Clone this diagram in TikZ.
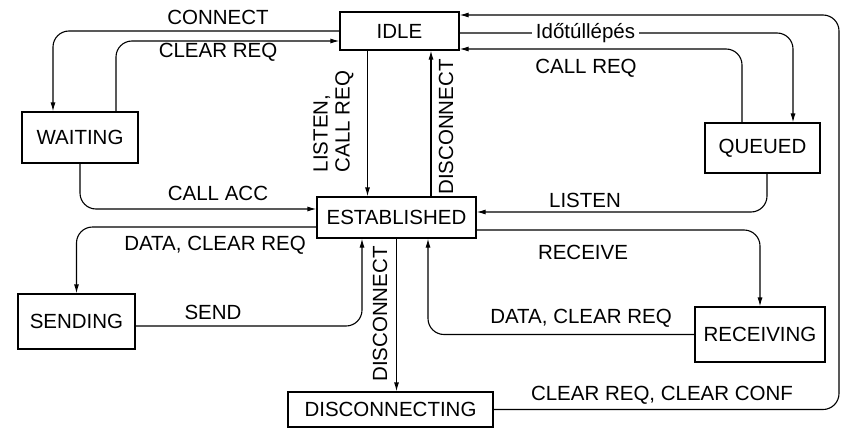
\documentclass[tikz,border=0pt]{standalone}
\usepackage{fontspec}
\setmainfont{Liberation Sans}
\usetikzlibrary{arrows.meta}
\newcommand{\lblfont}{\fontsize{20.5}{22}\selectfont}
\begin{document}
\begin{tikzpicture}[x=1pt,y=-1pt,
  box/.style={draw,line width=1.1pt,inner sep=0pt,font=\lblfont},
  lab/.style={inner sep=0pt,font=\lblfont},
  arr/.style={line width=1.1pt,rounded corners=16pt,-{Latex[length=9pt,width=5pt]}},
  ln/.style={line width=1.1pt,rounded corners=16pt}]
\useasboundingbox (0,0) rectangle (842,428);

% states
\node[box,minimum width=119pt,minimum height=38pt] (idle) at (399.5,31) {IDLE};
\node[box,minimum width=116pt,minimum height=51pt] (waiting) at (80,137.5) {WAITING};
\node[box,minimum width=115pt,minimum height=50pt] (queued) at (762.5,148) {QUEUED};
\node[box,minimum width=159pt,minimum height=41pt] (est) at (396.5,217.5) {ESTABLISHED};
\node[box,minimum width=117pt,minimum height=55pt] (send) at (76.5,321.5) {SENDING};
\node[box,minimum width=130pt,minimum height=55pt] (recv) at (760,334.5) {RECEIVING};
\node[box,minimum width=205pt,minimum height=35pt] (disc) at (390.5,409.5) {DISCONNECTING};

% connectors
\draw[arr] (idle.west) -| ([xshift=-27pt]waiting.north);
\draw[arr] ([xshift=36pt]waiting.north) |- ([yshift=-10pt]idle.west);
\draw[arr] (waiting.south) |- ([yshift=8.5pt]est.west);
\coordinate (a1) at ([xshift=-32pt]idle.south);
\draw[arr] (a1) -- (a1 |- est.north);
\coordinate (a2) at ([xshift=34.5pt]est.north);
\draw[arr] (a2) -- (a2 |- idle.south);
\draw[arr] ([yshift=-2pt]idle.east) -| ([xshift=30.5pt]queued.north);
\draw[arr] ([xshift=-20.5pt]queued.north) |- ([yshift=-18pt]idle.east);
\coordinate (r2) at (839,15);
\draw[arr] (disc.east) -| (r2) -- (idle.east |- r2);
\draw[arr] ([xshift=4.5pt]queued.south) |- ([yshift=5.5pt]est.east);
\draw[arr] ([yshift=-12.5pt]est.east) -| (recv.north);
\draw[arr] (recv.west) -| ([xshift=31.5pt]est.south);
\draw[arr] ([yshift=-9.5pt]est.west) -| (send.north);
\draw[arr] ([yshift=-4.5pt]send.east) -| ([xshift=-34.5pt]est.south);
\draw[arr] (est.south) -- (est.south |- disc.north);

% labels
\node[lab] (lconnect) at (218,17) {CONNECT};
\node[lab] (lclear1) at (218,52) {CLEAR REQ};
\node[lab] (lcallacc) at (218,193) {CALL ACC};
\node[lab,rotate=90,align=left] (llisten1) at (333.5,121.5) {LISTEN,\\CALL REQ};
\node[lab,rotate=90] (ldisc1) at (446,127) {DISCONNECT};
\node[lab,fill=white,inner xsep=4pt,inner ysep=2pt] (ltime) at (585.5,33) {Időtúllépés};
\node[lab] (lcallreq) at (586,68) {CALL REQ};
\node[lab] (llisten2) at (585,200) {LISTEN};
\node[lab] (lrecv) at (583,252) {RECEIVE};
\node[lab] (ldata2) at (581,318) {DATA, CLEAR REQ};
\node[lab] (ldata1) at (215,245) {DATA, CLEAR REQ};
\node[lab] (lsend) at (213,312) {SEND};
\node[lab,rotate=90] (ldisc2) at (380,314) {DISCONNECT};
\node[lab] (lclrconf) at (662,395) {CLEAR REQ, CLEAR CONF};
\end{tikzpicture}
\end{document}
